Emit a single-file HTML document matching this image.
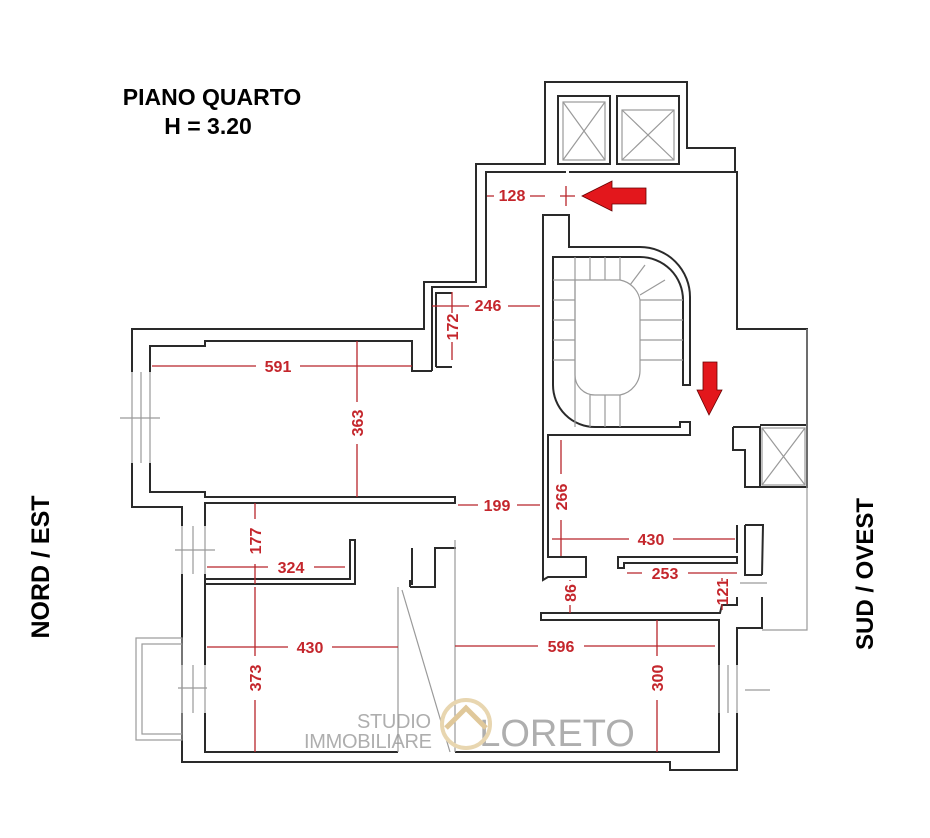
<!DOCTYPE html>
<html><head><meta charset="utf-8"><style>
html,body{margin:0;padding:0;background:#fff;}
svg{display:block}
.w{fill:none;stroke:#2a2a2a;stroke-width:2;stroke-linejoin:miter}
.g{fill:none;stroke:#9a9a9a;stroke-width:1.2}
.d{stroke:#b8252b;stroke-width:1.3;fill:none}
.t{font-family:"Liberation Sans",sans-serif;font-weight:bold;font-size:16px;fill:#c4262c}
.h{font-family:"Liberation Sans",sans-serif;font-weight:bold;fill:#000}
</style></head><body>
<svg width="930" height="838" viewBox="0 0 930 838" xmlns="http://www.w3.org/2000/svg">
<rect width="930" height="838" fill="#fff"/>
<path class="w" d="M132,372 L132,329 L424,329 L424,282 L476,282 L476,164 L545,164 L545,82 L687,82 L687,148 L735,148 L735,172 L737,172 L737,329 L807,329 L807,425"/>
<path class="w" d="M132,463 L132,507 L182,507 L182,526 M182,574 L182,665 M182,713 L182,762 L670,762 L670,770 L737,770 L737,713 M737,665 L737,628 L762,628 L762,597 M762,575 L763,525 L745,525"/>
<path class="w" d="M150,372 L150,346 L205,346 L205,341 L412,341 L412,371 L432,371"/>
<path class="w" d="M150,463 L150,492 L205,492 L205,497 L455,497 L455,503 L205,503 L205,526"/>
<path class="w" d="M205,574 L205,665 M205,713 L205,752 L398,752 M455,752 L719,752 L719,620 L541,620 L541,613 L720,613 L722,605 L737,605 L737,597"/>
<path class="g" d="M132,372 L132,463 M150,372 L150,463 M141,372 L141,463 M182,526 L182,574 M205,526 L205,574 M193,526 L193,574 M182,665 L182,713 M205,665 L205,713 M193,665 L193,713 M719,665 L719,713 M737,665 L737,713 M728,665 L728,713"/>
<path class="w" d="M432,371 L432,287 L486,287 L486,172 L566,172 M569,172 L737,172"/>
<path class="w" d="M436,367 L436,293 L452,293 M436,367 L452,367"/>
<path class="w" d="M542,215 L569,215 L569,247 L640,247 A50,50 0 0 1 690,297 L690,385 L683,385 L683,300 A43,43 0 0 0 640,257 L553,257 L553,385 A42,42 0 0 0 595,427 L680,427 L680,422 L690,422 L690,435 L548,435 L548,557 L586,557 L586,577 L548,577 L543,580 L543,215"/>
<rect class="w" x="558" y="96" width="52" height="68"/>
<rect class="w" x="617" y="96" width="62" height="68"/>
<rect class="g" x="563" y="102" width="42" height="58"/><path class="g" d="M563,102 L605,160 M605,102 L563,160"/>
<rect class="g" x="622" y="110" width="52" height="50"/><path class="g" d="M622,110 L674,160 M674,110 L622,160"/>
<g class="g">
<path d="M575,280 L620,280 A25,25 0 0 1 640,300 L640,370 A25,25 0 0 1 620,395 L595,395 A20,20 0 0 1 575,375 Z"/>
<path d="M575,257 L575,427 M590,257 L590,280 M605,257 L605,280 M620,257 L620,280 M553,280 L575,280 M553,300 L575,300 M553,320 L575,320 M553,340 L575,340 M553,360 L575,360 M640,320 L683,320 M640,340 L683,340 M640,360 L683,360 M640,300 L683,300 M605,395 L605,427 M620,395 L620,427 M590,395 L590,427 M645,265 L630,285 M665,280 L640,295"/>
</g>
<path class="w" d="M733,427 L760,427 L760,487 L807,487 L807,425 L760,425 M733,427 L733,450 L745,450 L745,487 L760,487"/>
<rect class="g" x="762" y="428" width="43" height="57"/><path class="g" d="M762,428 L805,485 M805,428 L762,485"/>
<path class="g" d="M807,329 L807,630 L762,630"/>
<path class="w" d="M618,557 L737,557 L737,563 L624,563 L624,568 L618,568 Z"/>
<path class="w" d="M737,525 L737,553 M745,525 L745,575 L762,575"/>
<path class="w" d="M205,584 L355,584 L355,540 L350,540 L350,579 L205,579"/>
<path class="w" d="M410,587 L435,587 L435,548 L456,548 M410,587 L410,580 M412,548 L412,585"/>
<path class="g" d="M398,587 L398,752 M455,540 L455,752 M402,590 L450,752"/>
<rect class="g" x="136" y="638" width="46" height="102"/><rect class="g" x="142" y="644" width="40" height="90"/>
<path class="g" d="M120,418 L160,418 M175,550 L215,550 M178,688 L207,688 M745,690 L770,690 M740,583 L767,583"/>
<g class="d">
<path d="M487,196 L494,196 M530,196 L545,196 M560,196 L575,196 M566,186 L566,206"/>
<path d="M432,306 L469,306 M508,306 L540,306 M452,292 L452,313 M452,342 L452,360"/>
<path d="M152,366 L256,366 M300,366 L412,366"/>
<path d="M357,341 L357,402 M357,444 L357,497"/>
<path d="M458,505 L478,505 M517,505 L540,505"/>
<path d="M561,440 L561,474 M561,520 L561,556"/>
<path d="M552,539 L629,539 M673,539 L735,539"/>
<path d="M627,573 L642,573 M688,573 L737,573"/>
<path d="M255,503 L255,519 M255,564 L255,584"/>
<path d="M207,567 L268,567 M314,567 L345,567"/>
<path d="M570,580 L570,581 M570,605 L570,613"/>
<path d="M722,578 L722,581 M722,604 L722,610"/>
<path d="M207,647 L288,647 M332,647 L398,647"/>
<path d="M455,646 L538,646 M584,646 L715,646"/>
<path d="M255,587 L255,656 M255,700 L255,752"/>
<path d="M657,620 L657,656 M657,700 L657,752"/>
</g>
<g class="t">
<text x="512" y="201" text-anchor="middle">128</text>
<text x="488" y="311" text-anchor="middle">246</text>
<text transform="translate(458,327) rotate(-90)" text-anchor="middle">172</text>
<text x="278" y="372" text-anchor="middle">591</text>
<text transform="translate(363,423) rotate(-90)" text-anchor="middle">363</text>
<text x="497" y="511" text-anchor="middle">199</text>
<text transform="translate(567,497) rotate(-90)" text-anchor="middle">266</text>
<text x="651" y="545" text-anchor="middle">430</text>
<text x="665" y="579" text-anchor="middle">253</text>
<text transform="translate(261,541) rotate(-90)" text-anchor="middle">177</text>
<text x="291" y="573" text-anchor="middle">324</text>
<text transform="translate(576,593) rotate(-90)" text-anchor="middle">86</text>
<text transform="translate(728,592) rotate(-90)" text-anchor="middle">121</text>
<text x="310" y="653" text-anchor="middle">430</text>
<text x="561" y="652" text-anchor="middle">596</text>
<text transform="translate(261,678) rotate(-90)" text-anchor="middle">373</text>
<text transform="translate(663,678) rotate(-90)" text-anchor="middle">300</text>
</g>
<path d="M582,196 L612,181 L612,188 L646,188 L646,204 L612,204 L612,211 Z" fill="#e3171c" stroke="#600" stroke-width="0.8"/>
<path d="M709,415 L697,390 L703,390 L703,362 L717,362 L717,390 L722,390 Z" fill="#e3171c" stroke="#600" stroke-width="0.8"/>
<text class="h" x="212" y="105" font-size="23" text-anchor="middle">PIANO QUARTO</text>
<text class="h" x="208" y="134" font-size="23" text-anchor="middle">H = 3.20</text>
<text class="h" transform="translate(49,567) rotate(-90)" font-size="25" text-anchor="middle">NORD / EST</text>
<text class="h" transform="translate(873,574) rotate(-90)" font-size="24" text-anchor="middle">SUD / OVEST</text>
<g font-family="Liberation Sans,sans-serif" fill="#9a9a9a" opacity="0.8">
<text x="394" y="728" font-size="20" text-anchor="middle" textLength="74">STUDIO</text>
<text x="368" y="748" font-size="20" text-anchor="middle" textLength="128">IMMOBILIARE</text>
<text x="557" y="746" font-size="38" text-anchor="middle">LORETO</text>
</g>
<circle cx="466" cy="724" r="24" fill="none" stroke="#e8d6b0" stroke-width="4"/>
<path d="M446,728 L466,708 L486,728" fill="none" stroke="#e0c89a" stroke-width="5"/>
</svg>
</body></html>
